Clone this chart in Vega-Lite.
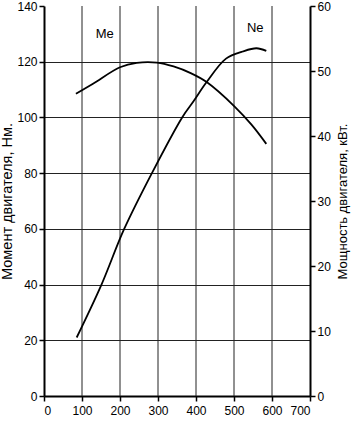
{
  "$schema": "https://vega.github.io/schema/vega-lite/v6.json",
  "autosize": "none",
  "padding": {"left": 44, "top": 6, "right": 41, "bottom": 25},
  "width": 266,
  "height": 390,
  "background": "white",
  "config": {
    "font": "Liberation Sans",
    "view": {"stroke": null},
    "axis": {
      "labelFont": "Liberation Sans",
      "titleFont": "Liberation Sans",
      "labelFontSize": 12,
      "titleFontSize": 15,
      "titleFontWeight": "normal",
      "labelColor": "black",
      "titleColor": "black",
      "domainColor": "black",
      "domainWidth": 2,
      "tickColor": "black",
      "tickWidth": 1.5,
      "tickSize": 5,
      "labelOverlap": false,
      "gridColor": "#222222",
      "gridWidth": 1,
      "gridOpacity": 1
    }
  },
  "datasets": {
    "me": [
      {"rpm": 84, "v": 108.5},
      {"rpm": 129, "v": 112.1},
      {"rpm": 200, "v": 118},
      {"rpm": 244, "v": 119.6},
      {"rpm": 297, "v": 119.7},
      {"rpm": 341, "v": 118.3},
      {"rpm": 386, "v": 115.9},
      {"rpm": 428, "v": 112.7},
      {"rpm": 501, "v": 104},
      {"rpm": 546, "v": 97.4},
      {"rpm": 585, "v": 90.5}
    ],
    "ne": [
      {"rpm": 86, "p": 9.0},
      {"rpm": 151, "p": 17.1},
      {"rpm": 211, "p": 25.7},
      {"rpm": 284, "p": 34.3},
      {"rpm": 364, "p": 42.9},
      {"rpm": 393, "p": 45.3},
      {"rpm": 428, "p": 48.3},
      {"rpm": 479, "p": 51.9},
      {"rpm": 523, "p": 53.0},
      {"rpm": 559, "p": 53.5},
      {"rpm": 585, "p": 53.1}
    ],
    "labels": [
      {"rpm": 160, "v": 130, "t": "Me"},
      {"rpm": 556, "v": 132, "t": "Ne"}
    ],
    "vgrid": [
      {"rpm": 100}, {"rpm": 200}, {"rpm": 300}, {"rpm": 400}, {"rpm": 500}, {"rpm": 600}
    ]
  },
  "encoding": {
    "x": {"field": "rpm", "type": "quantitative", "scale": {"domain": [0, 700], "nice": false},
      "axis": {"title": null, "values": [0, 100, 200, 300, 400, 500, 600, 700], "labelPadding": 4, "grid": false}}
  },
  "layer": [
    {
      "layer": [
        {
          "data": {"name": "vgrid"},
          "mark": {"type": "rule", "color": "#222222", "strokeWidth": 1},
          "encoding": {}
        },
        {
          "data": {"name": "me"},
          "mark": {"type": "line", "color": "black", "strokeWidth": 1.8, "interpolate": "catmull-rom"},
          "encoding": {
            "y": {"field": "v", "type": "quantitative", "scale": {"domain": [0, 140], "nice": false},
              "axis": {"title": "Момент двигателя, Нм.", "titleFontSize": 14.5, "values": [0, 20, 40, 60, 80, 100, 120, 140], "titlePadding": 2,
                "gridOpacity": {"condition": {"test": "datum.value === 140 || datum.value === 0", "value": 0}, "value": 1}}}
          }
        },
        {
          "data": {"name": "labels"},
          "mark": {"type": "text", "fontSize": 13, "color": "black", "font": "Liberation Sans"},
          "encoding": {
            "y": {"field": "v", "type": "quantitative"},
            "text": {"field": "t"}
          }
        }
      ]
    },
    {
      "data": {"name": "ne"},
      "mark": {"type": "line", "color": "black", "strokeWidth": 1.8, "interpolate": "catmull-rom"},
      "encoding": {
        "y": {"field": "p", "type": "quantitative", "scale": {"domain": [0, 60], "nice": false},
          "axis": {"orient": "right", "title": "Мощность двигателя, кВт.", "titleFontSize": 13, "titleAngle": 270, "titleBaseline": "top", "values": [0, 10, 20, 30, 40, 50, 60], "grid": false, "titlePadding": 6}}
      }
    }
  ],
  "resolve": {"scale": {"y": "independent"}}
}
